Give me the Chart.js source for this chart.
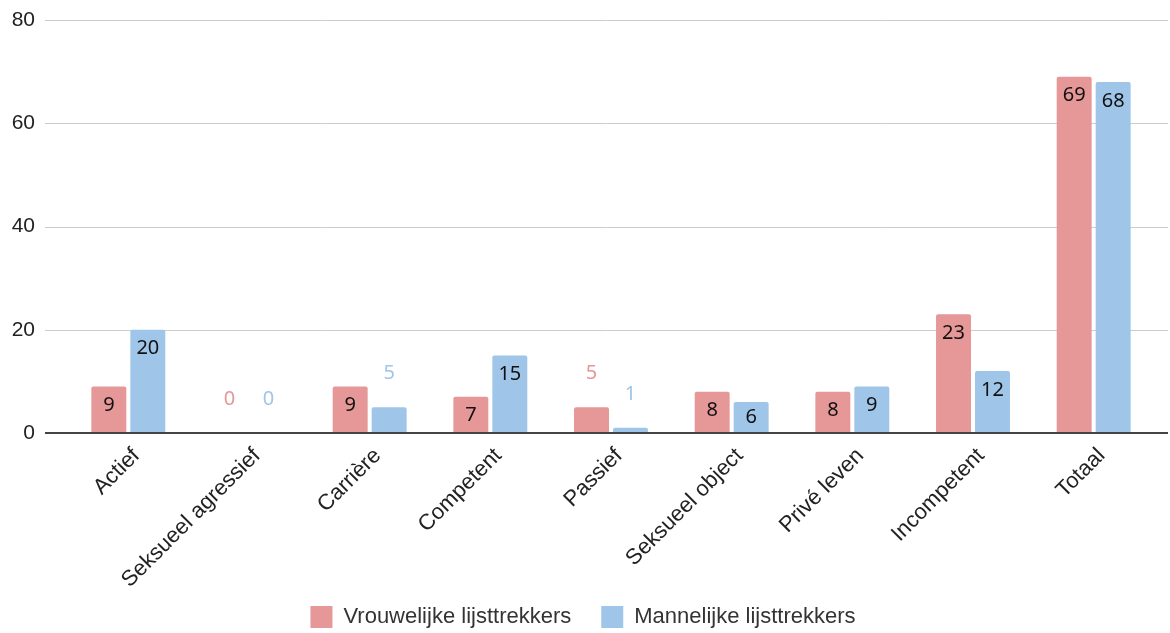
<!DOCTYPE html>
<html>
<head>
<meta charset="utf-8">
<script src="https://cdn.jsdelivr.net/npm/chart.js@4"></script>
<style>
  html, body { margin: 0; padding: 0; background: #fff; overflow: hidden; }
  #wrap { width: 1170px; height: 638px; }
</style>
</head>
<body>
<div id="wrap"><canvas id="chart"></canvas></div>
<script>
const categories = ['Actief', 'Seksueel agressief', 'Carrière', 'Competent', 'Passief',
  'Seksueel object', 'Privé leven', 'Incompetent', 'Totaal'];
const women = [9, 0, 9, 7, 5, 8, 8, 23, 69];
const men = [20, 0, 5, 15, 1, 6, 9, 12, 68];
const seriesNames = ['Vrouwelijke lijsttrekkers', 'Mannelijke lijsttrekkers'];
const yTicks = [0, 20, 40, 60, 80];

const pink = '#e69797';
const blue = '#9fc5e8';

// grid lines run wider than the bars, like the original
const gridPlugin = {
  id: 'wideGrid',
  beforeDatasetsDraw(chart) {
    const ctx = chart.ctx;
    const y = chart.scales.y;
    ctx.save();
    ctx.strokeStyle = '#cccccc';
    ctx.lineWidth = 1;
    yTicks.forEach(v => {
      if (v === 0) return;
      const py = Math.round(y.getPixelForValue(v)) + 0.5;
      ctx.beginPath();
      ctx.moveTo(45, py);
      ctx.lineTo(1168, py);
      ctx.stroke();
    });
    ctx.restore();
  },
  afterDatasetsDraw(chart) {
    const ctx = chart.ctx;
    const py = chart.scales.y.getPixelForValue(0);
    ctx.save();
    ctx.strokeStyle = '#444444';
    ctx.lineWidth = 2;
    ctx.beginPath();
    ctx.moveTo(45, py);
    ctx.lineTo(1168, py);
    ctx.stroke();
    ctx.restore();
  }
};

const labelPlugin = {
  id: 'barLabels',
  afterDatasetsDraw(chart) {
    const ctx = chart.ctx;
    ctx.save();
    ctx.font = '20px "Noto Sans"';
    ctx.textAlign = 'center';
    ctx.textBaseline = 'middle';
    chart.data.datasets.forEach((ds, i) => {
      chart.getDatasetMeta(i).data.forEach((bar, j) => {
        const h = bar.base - bar.y;
        let ty;
        if (h < 28) {
          ctx.fillStyle = ds.backgroundColor;
          ty = bar.y - 34;
        } else {
          ctx.fillStyle = '#111111';
          ty = Math.min(bar.y + 19, (bar.y + bar.base) / 2);
        }
        ctx.fillText(String(ds.data[j]), bar.x, ty);
      });
    });
    ctx.restore();
  }
};

new Chart(document.getElementById('chart'), {
  type: 'bar',
  data: {
    labels: categories,
    datasets: [
      { label: seriesNames[0], data: women, backgroundColor: pink },
      { label: seriesNames[1], data: men, backgroundColor: blue }
    ]
  },
  options: {
    responsive: true,
    maintainAspectRatio: false,
    animation: false,
    layout: { padding: { left: 12, right: 16, top: 20, bottom: 0 } },
    datasets: {
      bar: {
        categoryPercentage: 0.646,
        barPercentage: 0.897,
        borderRadius: { topLeft: 2, topRight: 2 },
        borderSkipped: 'start'
      }
    },
    scales: {
      x: {
        grid: { display: false, drawTicks: false },
        border: { display: false },
        afterFit(scale) {
          scale.paddingLeft = 0;
          scale.paddingRight = 0;
          scale.height = 143;
          // long rotated labels may run into the legend band, don't clip them
          scale._computeLabelArea = () => undefined;
        },
        ticks: {
          minRotation: 45,
          maxRotation: 45,
          autoSkip: false,
          padding: 10,
          labelOffset: 8,
          color: '#222222',
          font: { family: '"Liberation Sans"', size: 22 }
        }
      },
      y: {
        min: 0,
        max: 80,
        grid: { display: false, drawTicks: false },
        border: { display: false },
        afterFit(scale) {
          scale.paddingTop = 0;
          scale.paddingBottom = 0;
          scale.width = 56;
        },
        ticks: {
          stepSize: 20,
          padding: 33,
          color: '#222222',
          font: { family: '"Liberation Sans"', size: 21 }
        }
      }
    },
    plugins: {
      legend: {
        position: 'bottom',
        labels: {
          boxWidth: 22,
          boxHeight: 22,
          padding: 30,
          color: '#333333',
          font: { family: '"Liberation Sans"', size: 22 }
        }
      },
      tooltip: { enabled: false }
    }
  },
  plugins: [gridPlugin, labelPlugin]
});
</script>
</body>
</html>
